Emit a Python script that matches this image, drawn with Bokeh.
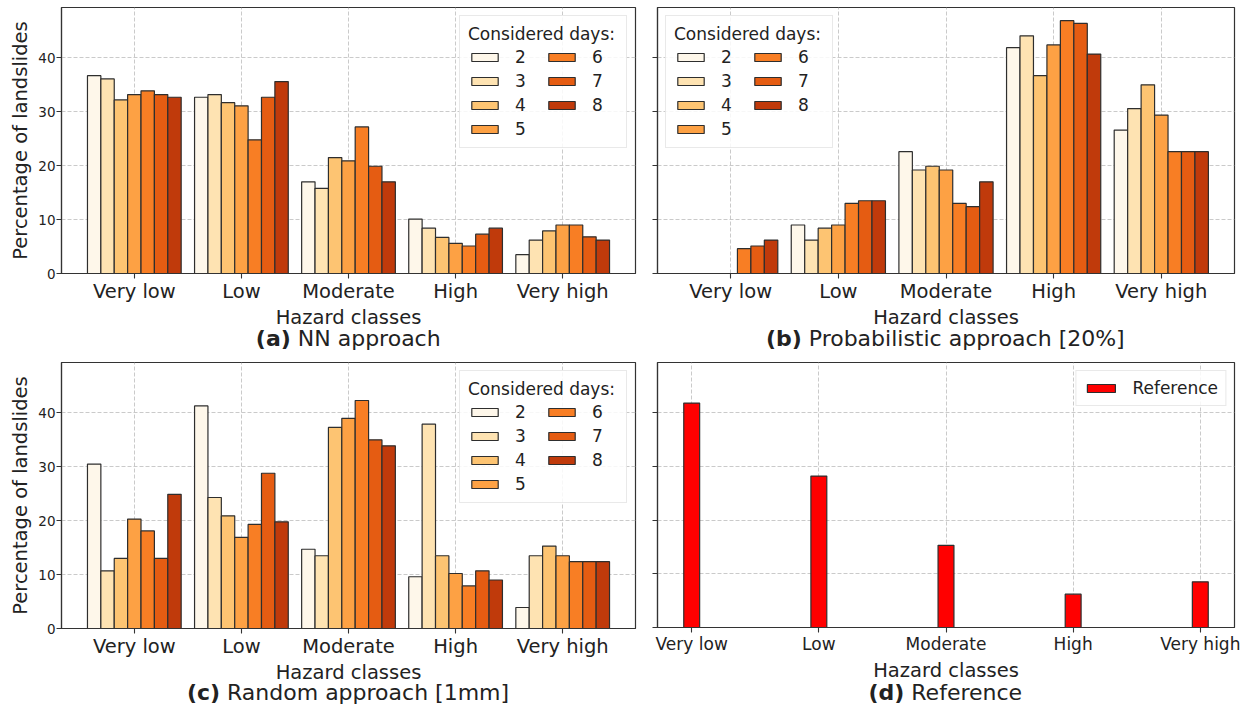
from bokeh.plotting import figure
from bokeh.layouts import column, row
from bokeh.models import Range1d, FixedTicker, Legend, LegendItem
from bokeh.core.properties import value
from bokeh.embed import file_html
from bokeh.resources import INLINE

# ---- data -------------------------------------------------------------
classes = ["Very low", "Low", "Moderate", "High", "Very high"]
days = ["2", "3", "4", "5", "6", "7", "8"]
day_colors = ["#fef7ea", "#fee3b2", "#fdc472", "#fda144", "#f87e24", "#e55c12", "#c03a0b"]

# percentage of landslides per hazard class, one list per considered-days value
nn_approach = {
    "2": [36.7, 32.7, 17.0, 10.1, 3.5],
    "3": [36.1, 33.2, 15.8, 8.4, 6.2],
    "4": [32.2, 31.7, 21.5, 6.7, 7.9],
    "5": [33.2, 31.1, 20.9, 5.6, 9.0],
    "6": [33.9, 24.8, 27.2, 5.1, 9.0],
    "7": [33.2, 32.7, 19.9, 7.3, 6.8],
    "8": [32.7, 35.6, 17.0, 8.4, 6.2],
}
probabilistic_20 = {
    "2": [0.0, 9.0, 22.6, 41.9, 26.6],
    "3": [0.0, 6.2, 19.2, 44.1, 30.6],
    "4": [0.0, 8.4, 19.9, 36.7, 35.0],
    "5": [0.0, 9.0, 19.2, 42.4, 29.4],
    "6": [4.6, 13.0, 13.0, 46.9, 22.6],
    "7": [5.1, 13.5, 12.4, 46.4, 22.6],
    "8": [6.2, 13.5, 17.0, 40.7, 22.6],
}
random_1mm = {
    "2": [30.5, 41.3, 14.7, 9.6, 3.9],
    "3": [10.7, 24.3, 13.5, 37.9, 13.5],
    "4": [13.0, 20.9, 37.3, 13.5, 15.3],
    "5": [20.3, 16.9, 39.0, 10.2, 13.5],
    "6": [18.1, 19.3, 42.3, 7.9, 12.4],
    "7": [13.0, 28.8, 35.0, 10.7, 12.4],
    "8": [24.9, 19.8, 33.9, 9.0, 12.4],
}
reference = [41.8, 28.2, 15.3, 6.2, 8.5]

y_ticks = [0, 10, 20, 30, 40]
x_title = "Hazard classes"
y_title = "Percentage of landslides"

# ---- styling helpers --------------------------------------------------
FONT = "DejaVu Sans"
TXT = "#222222"
EDGE = "#2e2e2e"
Y_MAX = 49.35

# approximate DejaVu Sans advance widths (em) for centring mixed-weight captions
REG_W = {" ": .318, "N": .748, "a": .613, "p": .635, "r": .411, "o": .612, "c": .550,
         "h": .634, "P": .603, "b": .635, "i": .278, "l": .278, "s": .521, "t": .392,
         "[": .390, "]": .390, "2": .636, "0": .636, "%": .950, "R": .695, "n": .634,
         "d": .635, "m": .974, "1": .636, "e": .615, "f": .352}
BOLD_W = {"(": .457, ")": .457, "a": .675, "b": .716, "c": .593, "d": .716}


def text_width(s, table, size):
    return sum(table.get(ch, 0.6) for ch in s) * size


def make_panel(width, height, left, right, top, bottom, xr, show_ylabels, tick_size):
    p = figure(width=width, height=height, x_range=Range1d(*xr), y_range=Range1d(0, Y_MAX),
               output_backend="svg", toolbar_location=None, title=None,
               min_border_left=left, min_border_right=right,
               min_border_top=top, min_border_bottom=bottom)
    p.outline_line_color = "#333333"
    p.outline_line_width = 1.2

    p.xaxis.ticker = FixedTicker(ticks=list(range(len(classes))))
    p.xaxis.major_label_overrides = {i: c for i, c in enumerate(classes)}
    p.xaxis.major_label_text_font_size = tick_size
    p.yaxis.ticker = FixedTicker(ticks=y_ticks)
    if show_ylabels:
        p.yaxis.axis_label = y_title
        p.yaxis.major_label_text_font_size = "13.5px"
    else:
        p.yaxis.major_label_overrides = {t: "" for t in y_ticks}
        p.yaxis.major_label_text_font_size = "1px"

    for ax in (p.xaxis[0], p.yaxis[0]):
        ax.axis_line_color = "#333333"
        ax.axis_line_width = 1.2
        ax.major_tick_line_color = "#333333"
        ax.major_tick_line_width = 1.1
        ax.major_tick_out = 5
        ax.major_tick_in = 0
        ax.minor_tick_line_color = None
        ax.major_label_text_font = FONT
        ax.major_label_text_color = TXT
        ax.axis_label_text_font = FONT
        ax.axis_label_text_font_style = "normal"
        ax.axis_label_text_font_size = "19.5px"
        ax.axis_label_text_color = TXT
        ax.major_label_standoff = 1
        ax.axis_label_standoff = 3

    for g in (p.xgrid[0], p.ygrid[0]):
        g.grid_line_color = "#c4c4c4"
        g.grid_line_dash = "4 2"
        g.grid_line_width = 0.9
    p.xgrid.ticker = FixedTicker(ticks=list(range(len(classes))))
    p.ygrid.ticker = FixedTicker(ticks=y_ticks)
    return p


def caption(width, height, left, right, xlabel_mid, cap_mid, tag, rest):
    """Strip under a panel: x-axis title and the '(x) title' caption, centred on the frame.
    Text middles are given in pixels from the top of the strip."""
    c = figure(width=width, height=height, x_range=Range1d(0, 1), y_range=Range1d(0, height),
               output_backend="svg", toolbar_location=None, title=None,
               x_axis_location=None, y_axis_location=None,
               min_border_left=left, min_border_right=right,
               min_border_top=0, min_border_bottom=0)
    c.grid.visible = False
    c.outline_line_color = None
    c.text(x=[0.5], y=[height - xlabel_mid], text=[x_title], text_font=value(FONT),
           text_font_size="19.5px", text_color=TXT, text_align="center",
           text_baseline="middle")
    size = 22
    w_tag = text_width(tag, BOLD_W, size)
    w_gap = REG_W[" "] * size
    w_rest = text_width(rest, REG_W, size)
    start = -(w_tag + w_gap + w_rest) / 2
    c.text(x=[0.5], y=[height - cap_mid], text=[tag], x_offset=start, text_font=value(FONT),
           text_font_style="bold", text_font_size=f"{size}px", text_color=TXT,
           text_align="left", text_baseline="middle")
    c.text(x=[0.5], y=[height - cap_mid], text=[rest], x_offset=start + w_tag + w_gap,
           text_font=value(FONT), text_font_size=f"{size}px", text_color=TXT,
           text_align="left", text_baseline="middle")
    return c


def grouped_panel(values, location, width, height, left, right, top, bottom, show_ylabels):
    p = make_panel(width, height, left, right, top, bottom, (-0.68, 4.68), show_ylabels, "19.5px")
    bw = 0.125
    items = []
    for k, d in enumerate(days):
        xs = [i + (k - 3) * bw for i in range(len(classes))]
        r = p.vbar(x=xs, top=values[d], width=bw, bottom=0,
                   fill_color=day_colors[k], line_color=EDGE, line_width=1.2)
        items.append(LegendItem(label=d, renderers=[r]))
    leg = Legend(items=items, location=location, title="Considered days:", ncols=2,
                 title_text_font=FONT, title_text_font_size="17px",
                 title_text_font_style="normal", title_text_color=TXT, title_standoff=3,
                 label_text_font=FONT, label_text_font_size="17px", label_text_color=TXT,
                 glyph_width=33, glyph_height=10, label_height=20, label_width=26,
                 label_standoff=14, spacing=4, padding=8, margin=8,
                 border_line_color="#d4d4d4", border_line_width=1,
                 background_fill_color="white", background_fill_alpha=0.85)
    p.add_layout(leg)
    return p


# ---- panels -----------------------------------------------------------
# top row: plots 0..305, strips 305..354; bottom row: plots from 354, strips down to 708
pa = grouped_panel(nn_approach, "top_right", 646, 305, 61, 11, 7, 32, True)
ca = caption(646, 49, 61, 11, 12.3, 33.4, "(a)", "NN approach")

pb = grouped_panel(probabilistic_20, "top_left", 601, 305, 11, 13, 7, 32, False)
cb = caption(601, 49, 11, 13, 12.3, 33.4, "(b)", "Probabilistic approach [20%]")

pc = grouped_panel(random_1mm, "top_right", 646, 306, 61, 11, 8, 32, True)
cc = caption(646, 48, 61, 11, 12.3, 31.6, "(c)", "Random approach [1mm]")

pd_ = make_panel(601, 302, 11, 13, 8, 28, (-0.269, 4.269), False, "17px")
r_ref = pd_.vbar(x=list(range(len(classes))), top=reference, width=0.125, bottom=0,
                 fill_color="#ff0000", line_color=EDGE, line_width=1.2)
pd_.add_layout(Legend(items=[LegendItem(label="Reference", renderers=[r_ref])],
                      location="top_right", label_text_font=FONT, label_text_font_size="17px",
                      label_text_color=TXT, glyph_width=35, glyph_height=10,
                      label_height=20, label_standoff=14, padding=7, margin=8,
                      border_line_color="#d4d4d4", background_fill_alpha=0.85))
cd = caption(601, 52, 11, 13, 13.5, 35.6, "(d)", "Reference")

layout = column(row(column(pa, ca), column(pb, cb)),
                row(column(pc, cc), column(pd_, cd)))
open("out.html", "w").write(file_html(layout, INLINE))
